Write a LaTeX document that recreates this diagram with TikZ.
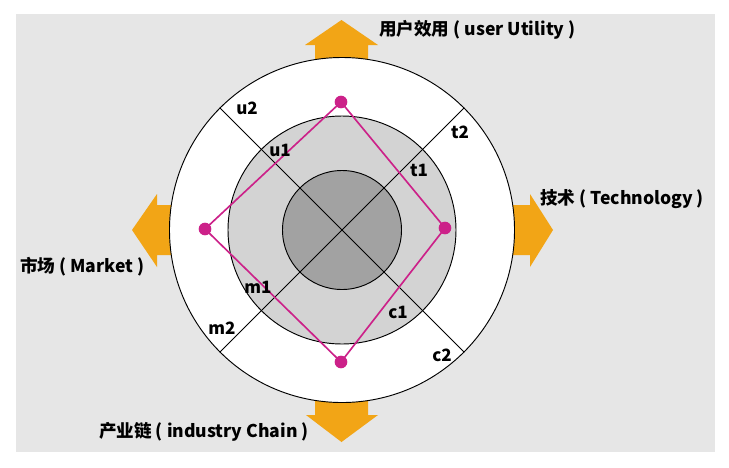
\documentclass[tikz,border=0pt]{standalone}
\usepackage{fontspec}
\newfontfamily\cjk{Noto Sans CJK SC}
\definecolor{bgray}{HTML}{E6E6E6}
\definecolor{midgray}{HTML}{D3D3D3}
\definecolor{darkgray}{HTML}{A2A2A2}
\definecolor{arrorange}{HTML}{F2A516}
\definecolor{mag}{HTML}{CC2189}
\begin{document}
\begin{tikzpicture}[x=0.03cm, y=-0.03cm]
    \tikzstyle{ring}=[circle, draw=black, line width=0.8pt, inner sep=0pt]
    \tikzstyle{dot}=[circle, fill=mag, inner sep=0pt, minimum size=0.38cm]
    \tikzstyle{lbl}=[font=\cjk\bfseries\fontsize{14.5}{16}\selectfont]
    \tikzstyle{axis}=[anchor=west, inner sep=0pt, font=\cjk\bfseries\fontsize{15}{17}\selectfont]
    \tikzstyle{bigarrow}=[fill=arrorange]
    \useasboundingbox (0,0) rectangle (729,467);
    \fill[white] (0,0) rectangle (729,467);
    \fill[bgray] (16,14) rectangle (715,452);
    % arrows
    \fill[bigarrow] (315,62) -- (315,45) -- (305,45) -- (341.5,20) -- (378,45) -- (368,45) -- (368,62) -- cycle;
    \fill[bigarrow] (315,398) -- (315,415) -- (306,415) -- (341.5,442) -- (378,415) -- (368,415) -- (368,398) -- cycle;
    \fill[bigarrow] (175,205) -- (157,205) -- (157,194) -- (132,230) -- (157,267) -- (157,255) -- (175,255) -- cycle;
    \fill[bigarrow] (510,205) -- (530,205) -- (530,194) -- (553,230) -- (530,267) -- (530,255) -- (510,255) -- cycle;
    % rings
    \node[ring, fill=white, minimum size=10.35cm] (outer) at (342,230) {};
    \node[ring, fill=midgray, minimum size=6.84cm] (mid) at (342,230) {};
    \node[ring, fill=darkgray, minimum size=3.57cm] (inner) at (342,230) {};
    \draw[line width=0.8pt] (outer.north west) -- (outer.south east);
    \draw[line width=0.8pt] (outer.north east) -- (outer.south west);
    % scores
    \node[dot] (pu) at (341,102) {};
    \node[dot] (pt) at (445,228) {};
    \node[dot] (pc) at (341,362) {};
    \node[dot] (pm) at (205,229) {};
    \draw[mag, line width=1.4pt] (pu.center) -- (pt.center) -- (pc.center) -- (pm.center) -- cycle;
    \node[lbl] (u2) at (247,108) {u2};
    \node[lbl] (u1) at (280,150) {u1};
    \node[lbl] (t1) at (419,170) {t1};
    \node[lbl] (t2) at (460,132) {t2};
    \node[lbl] (m1) at (258,287) {m1};
    \node[lbl] (m2) at (222,328) {m2};
    \node[lbl] (c1) at (398,312) {c1};
    \node[lbl] (c2) at (442,355) {c2};
    \node[axis] (user) at (379,30) {用户效用\ (\ user Utility\ )};
    \node[axis] (tech) at (540,199) {技术\ (\ Technology\ )};
    \node[axis] (market) at (20,267) {市场\ (\ Market\ )};
    \node[axis] (chain) at (99,432) {产业链\ (\ industry Chain\ )};
  \end{tikzpicture}
\end{document}
